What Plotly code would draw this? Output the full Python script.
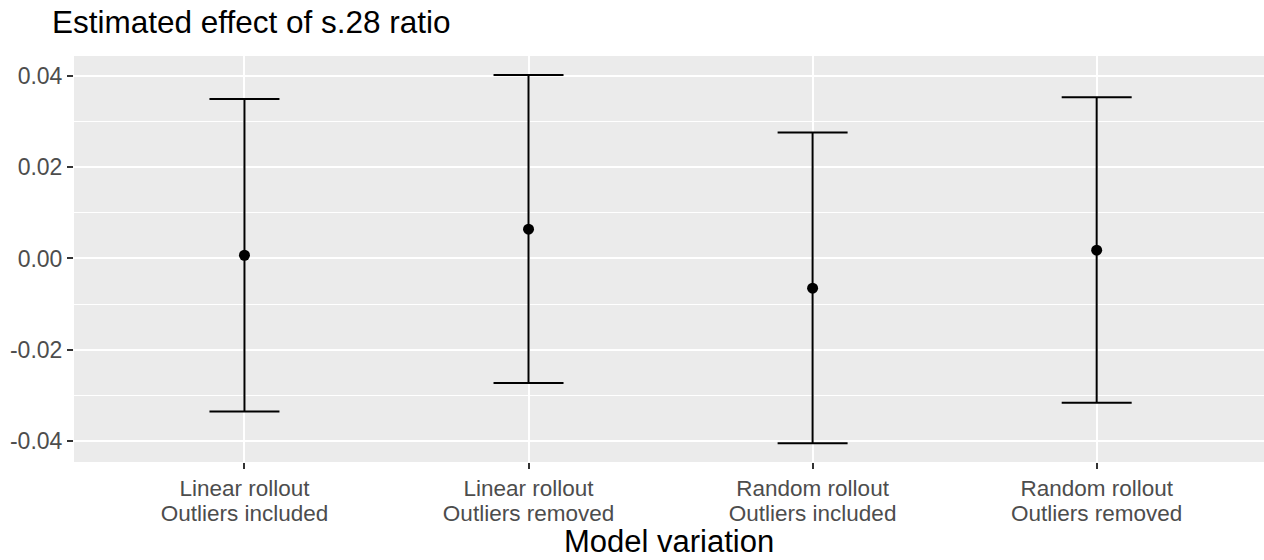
import plotly.graph_objects as go

# Model variations (two-line category labels)
rollout = ["Linear rollout", "Linear rollout", "Random rollout", "Random rollout"]
outliers = ["Outliers included", "Outliers removed", "Outliers included", "Outliers removed"]

# Estimated effect and confidence interval bounds
estimate = [0.0007, 0.0064, -0.0065, 0.0018]
lower = [-0.0335, -0.0273, -0.0405, -0.0316]
upper = [0.0349, 0.0402, 0.0276, 0.0353]

y_ticks = [-0.04, -0.02, 0.00, 0.02, 0.04]
y_tick_labels = ["-0.04", "-0.02", "0.00", "0.02", "0.04"]

positions = list(range(1, len(estimate) + 1))
err_plus = [u - e for u, e in zip(upper, estimate)]
err_minus = [e - l for e, l in zip(estimate, lower)]

FONT = "Liberation Sans, Arial, sans-serif"
PANEL = "#EBEBEB"
TICK_SIZE = 23
X_TICK_SIZE = 22.5

fig = go.Figure()
fig.add_trace(go.Scatter(
    x=positions,
    y=estimate,
    mode="markers",
    marker=dict(color="black", size=11),
    error_y=dict(
        type="data",
        symmetric=False,
        array=err_plus,
        arrayminus=err_minus,
        color="black",
        thickness=2,
        width=35,
    ),
    showlegend=False,
    hoverinfo="skip",
))

# invisible trace to activate the second x axis (second line of labels)
fig.add_trace(go.Scatter(x=positions, y=estimate, xaxis="x2", mode="markers",
                         marker=dict(opacity=0), showlegend=False, hoverinfo="skip"))

x_range = [0.4, 4.589]
plot_top, plot_bottom = 56, 461.7

fig.update_layout(
    width=1264,
    height=560,
    margin=dict(l=74, r=0, t=plot_top, b=560 - plot_bottom, autoexpand=False),
    paper_bgcolor="white",
    plot_bgcolor=PANEL,
    font=dict(family=FONT, color="#4D4D4D"),
    title=dict(
        text="Estimated effect of s.28 ratio",
        font=dict(family=FONT, size=31.5, color="black"),
        x=52 / 1264,
        xref="container",
        xanchor="left",
        y=1 - 11 / 560,
        yref="container",
        yanchor="top",
    ),
    xaxis=dict(
        range=x_range,
        tickmode="array",
        tickvals=positions,
        ticktext=rollout,
        tickfont=dict(size=X_TICK_SIZE, color="#4D4D4D"),
        ticks="outside",
        ticklen=6,
        tickwidth=1.5,
        tickcolor="#333333",
        showgrid=True,
        gridcolor="white",
        gridwidth=2.2,
        zeroline=False,
        showline=False,
        automargin=False,
    ),
    xaxis2=dict(
        range=x_range,
        overlaying="x",
        anchor="y",
        side="bottom",
        tickmode="array",
        tickvals=positions,
        ticktext=outliers,
        tickfont=dict(size=X_TICK_SIZE, color="#4D4D4D"),
        ticks="outside",
        ticklen=31,
        tickcolor="rgba(0,0,0,0)",
        showgrid=False,
        zeroline=False,
        showline=False,
        automargin=False,
    ),
    yaxis=dict(
        range=[-0.04458, 0.04434],
        tickmode="array",
        tickvals=y_ticks,
        ticktext=y_tick_labels,
        tickfont=dict(size=TICK_SIZE, color="#4D4D4D"),
        ticks="outside",
        ticklen=6,
        tickwidth=1.5,
        tickcolor="#333333",
        showgrid=True,
        gridcolor="white",
        gridwidth=2.2,
        minor=dict(dtick=0.01, tick0=0, showgrid=True, gridcolor="white",
                   gridwidth=1.1, ticks=""),
        zeroline=False,
        showline=False,
        automargin=False,
    ),
    annotations=[
        dict(
            text="Model variation",
            xref="paper", yref="paper",
            x=0.5, y=-(561 - plot_bottom) / (plot_bottom - plot_top),
            xanchor="center", yanchor="bottom",
            showarrow=False,
            font=dict(family=FONT, size=31, color="black"),
        )
    ],
)

fig.write_html("out.html")
